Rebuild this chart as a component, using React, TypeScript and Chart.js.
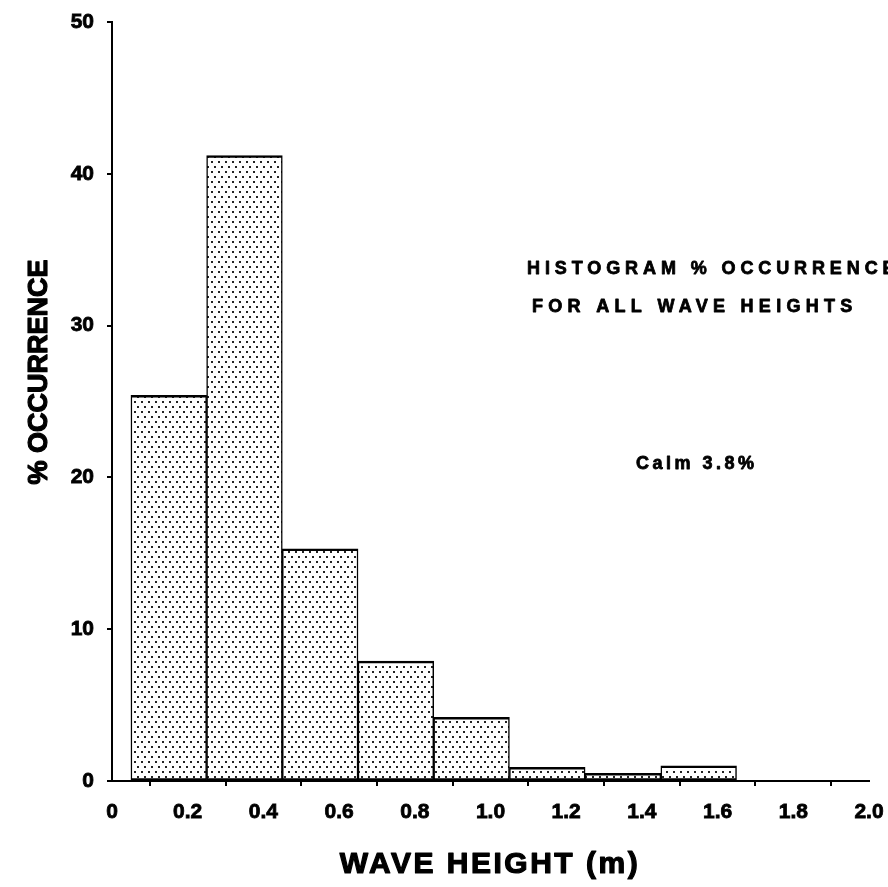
import React, { useEffect, useRef } from "react";
import { Chart, registerables } from "chart.js";

Chart.register(...registerables);

// Histogram bins (lower edge, metres) and their share of all observations (%)
const binStart = [0.05, 0.25, 0.45, 0.65, 0.85, 1.05, 1.25, 1.45];
const binWidth = 0.2;
const occurrence = [25.4, 41.2, 15.3, 7.9, 4.2, 0.9, 0.5, 1.0];

const calmPercent = 3.8;
const noteLines = ["HISTOGRAM % OCCURRENCE", "FOR ALL WAVE HEIGHTS"];
const xTitle = "WAVE HEIGHT (m)";
const yTitle = "% OCCURRENCE";

const FONT = "'Liberation Sans', Arial, Helvetica, sans-serif";

// Fine stipple used to fill the bars
function makeStipple(ctx: CanvasRenderingContext2D): CanvasPattern | string {
  const tile = document.createElement("canvas");
  tile.width = 7;
  tile.height = 10;
  const t = tile.getContext("2d");
  if (!t) return "#e6e6e6";
  t.fillStyle = "#ffffff";
  t.fillRect(0, 0, 7, 10);
  t.fillStyle = "#222222";
  t.fillRect(1, 1, 2, 2);
  t.fillRect(4, 6, 2, 2);
  return ctx.createPattern(tile, "repeat") || "#e6e6e6";
}

// heavy text: fill plus a thin outline
function heavyText(ctx: CanvasRenderingContext2D, s: string, x: number, y: number, w: number) {
  ctx.lineWidth = w;
  ctx.strokeText(s, x, y);
  ctx.fillText(s, x, y);
}

const textPlugin = {
  id: "waveText",
  afterDraw(chart: Chart) {
    const ctx = chart.ctx;
    ctx.save();
    ctx.fillStyle = "#000";
    ctx.strokeStyle = "#000";
    ctx.lineJoin = "round";
    ctx.textBaseline = "alphabetic";
    ctx.textAlign = "left";

    // notes inside the plot
    ctx.font = `bold 18px ${FONT}`;
    (ctx as any).letterSpacing = "4.9px";
    heavyText(ctx, noteLines[0], 527, 274, 0.8);
    (ctx as any).letterSpacing = "5.3px";
    heavyText(ctx, noteLines[1], 532, 312, 0.8);
    (ctx as any).letterSpacing = "3.5px";
    heavyText(ctx, `Calm ${calmPercent.toFixed(1)}%`, 636, 469, 0.8);

    // x axis title
    ctx.font = `bold 30px ${FONT}`;
    (ctx as any).letterSpacing = "2.5px";
    ctx.textAlign = "center";
    heavyText(ctx, xTitle, 490, 873, 1.2);

    // y axis title, rotated
    ctx.font = `bold 27px ${FONT}`;
    (ctx as any).letterSpacing = "0px";
    ctx.translate(47, 372);
    ctx.rotate(-Math.PI / 2);
    heavyText(ctx, yTitle, 0, 0, 1.2);
    ctx.restore();
  },
};

export default function App() {
  const canvasRef = useRef<HTMLCanvasElement | null>(null);

  useEffect(() => {
    const canvas = canvasRef.current;
    if (!canvas) return;
    const ctx = canvas.getContext("2d");
    if (!ctx) return;
    const stipple = makeStipple(ctx);

    const tickFont = { family: FONT, size: 21, weight: "bold" as const };

    const chart = new Chart(ctx, {
      type: "bar",
      data: {
        datasets: [
          {
            data: binStart.map((s, i) => ({ x: s + binWidth / 2, y: occurrence[i] })),
            backgroundColor: stipple as any,
            borderColor: "#000",
            borderWidth: { top: 2.5, left: 1.5, right: 1.5, bottom: 2 },
            borderSkipped: false,
            barPercentage: 1,
            categoryPercentage: 1,
          },
        ],
      },
      options: {
        responsive: false,
        animation: false,
        devicePixelRatio: 1,
        layout: { padding: { top: 22, right: 19, left: 0, bottom: 0 } },
        plugins: {
          legend: { display: false },
          tooltip: { enabled: false },
        },
        scales: {
          x: {
            type: "linear",
            min: 0,
            max: 2,
            offset: false,
            ticks: {
              stepSize: 0.2,
              autoSkip: false,
              maxRotation: 0,
              color: "#000",
              font: tickFont,
              padding: 14,
              textStrokeColor: "#000",
              textStrokeWidth: 0.8,
              callback: (v: any) => (Number(v) === 0 ? "0" : Number(v).toFixed(1)),
            },
            grid: {
              drawOnChartArea: false,
              drawTicks: true,
              tickLength: 5,
              color: "#000",
              lineWidth: 2,
            },
            border: { display: true, color: "#000", width: 2 },
            afterFit: (s: any) => {
              s.height = 106;
              s.paddingLeft = 0;
              s.paddingRight = 0;
            },
          },
          y: {
            min: 0,
            max: 50,
            ticks: {
              stepSize: 10,
              color: "#000",
              font: tickFont,
              padding: 13,
              textStrokeColor: "#000",
              textStrokeWidth: 0.8,
            },
            grid: {
              drawOnChartArea: false,
              drawTicks: true,
              tickLength: 5,
              color: "#000",
              lineWidth: 2,
            },
            border: { display: true, color: "#000", width: 2 },
            afterFit: (s: any) => {
              s.width = 112;
              s.paddingTop = 0;
              s.paddingBottom = 0;
            },
          },
        },
      },
      plugins: [textPlugin],
    });

    return () => chart.destroy();
  }, []);

  return (
    <div style={{ position: "fixed", left: 0, top: 0, width: 888, height: 887, background: "#fff" }}>
      <canvas ref={canvasRef} width={888} height={887} style={{ display: "block" }} />
    </div>
  );
}
